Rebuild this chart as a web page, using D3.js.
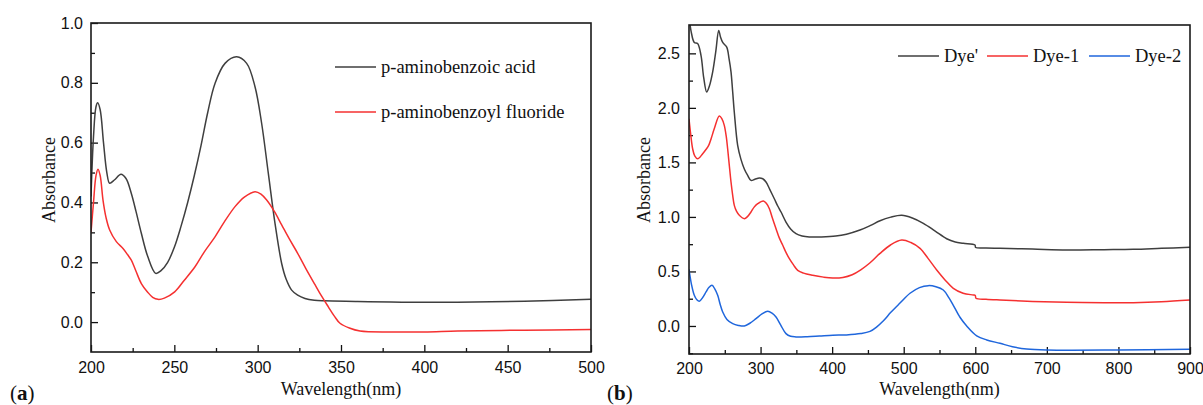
<!DOCTYPE html>
<html>
<head>
<meta charset="utf-8">
<script src="https://cdn.jsdelivr.net/npm/d3@7"></script>
<style>
  body { margin: 0; background: #fff; }
  svg { display: block; font-family: "Liberation Serif", "Times New Roman", serif; }
  .tick text { font-size: 16px; fill: #111; }
  .tick line { stroke: #111; stroke-width: 1.3; }
  .title { font-size: 18px; fill: #111; }
  .legend { font-size: 18.5px; fill: #111; }
</style>
</head>
<body>
<svg width="1203" height="405"></svg>
<script>
// ---- panel (a) : p-aminobenzoic acid vs p-aminobenzoyl fluoride ----
var acidWl = [200, 201.5, 203, 204, 205.5, 207.5, 209.5, 211.2, 214, 218, 221, 224.2, 227, 230.2, 234, 238.8, 242, 246, 250, 254, 258, 262, 266, 270, 274.4, 280.4, 287.4, 293.4, 298.4, 302.4, 306.4, 310.4, 314.4, 317, 320.4, 324, 328.4, 334, 340, 360, 380, 400, 430, 460, 500];
var acidAbs = [0.42, 0.62, 0.72, 0.733, 0.71, 0.60, 0.50, 0.464, 0.475, 0.494, 0.48, 0.43, 0.37, 0.297, 0.22, 0.163, 0.172, 0.20, 0.25, 0.32, 0.40, 0.49, 0.59, 0.70, 0.798, 0.865, 0.887, 0.865, 0.787, 0.664, 0.497, 0.330, 0.196, 0.145, 0.107, 0.09, 0.079, 0.073, 0.071, 0.069, 0.067, 0.066, 0.067, 0.070, 0.076];

var fluorWl = [200, 201.5, 203, 204.2, 205.5, 207.2, 209, 211.2, 215.2, 219.2, 222, 224.2, 227, 230.2, 234, 237, 240.2, 244, 250.2, 256, 262.4, 268, 274.4, 280, 286.4, 292, 298.4, 302, 305.4, 310, 314.4, 319, 324, 329, 334.4, 338, 342.4, 346, 349.4, 355, 361.4, 380, 400, 420, 460, 500];
var fluorAbs = [0.30, 0.40, 0.49, 0.511, 0.49, 0.408, 0.35, 0.308, 0.269, 0.246, 0.225, 0.207, 0.17, 0.129, 0.10, 0.083, 0.076, 0.08, 0.101, 0.14, 0.185, 0.235, 0.285, 0.335, 0.386, 0.418, 0.436, 0.428, 0.408, 0.37, 0.325, 0.278, 0.23, 0.178, 0.125, 0.09, 0.051, 0.02, -0.004, -0.02, -0.030, -0.033, -0.033, -0.030, -0.027, -0.025];

var seriesA = ["p-aminobenzoic acid", "p-aminobenzoyl fluoride"];

// ---- panel (b) : dyes ----
var dyePWl = [200, 203, 207.4, 212, 216.8, 220.5, 224.7, 228.5, 233.1, 237.5, 241.5, 244, 247.1, 252.7, 256, 258.7, 261, 263.3, 268, 272.5, 277.3, 282, 286.6, 292, 298.3, 303, 307.6, 313, 319.2, 324, 328.6, 335.5, 342, 349.5, 358, 368, 385, 405, 420, 438.9, 453, 466.9, 482, 497.2, 512, 527.4, 544, 560, 572, 583.3, 599.6, 600.5, 615, 634.5, 680, 727.7, 780, 820.8, 860, 900];
var dyePAbs = [2.85, 2.70, 2.60, 2.59, 2.48, 2.28, 2.145, 2.2, 2.33, 2.52, 2.71, 2.65, 2.60, 2.557, 2.45, 2.33, 2.15, 1.96, 1.656, 1.53, 1.44, 1.38, 1.335, 1.345, 1.357, 1.35, 1.32, 1.25, 1.167, 1.10, 1.045, 0.953, 0.89, 0.846, 0.825, 0.816, 0.817, 0.825, 0.842, 0.88, 0.92, 0.965, 0.998, 1.015, 0.99, 0.941, 0.87, 0.80, 0.77, 0.758, 0.742, 0.72, 0.715, 0.712, 0.705, 0.697, 0.70, 0.703, 0.712, 0.721];

var dye1Wl = [200, 202.5, 205.1, 208, 212.1, 219.1, 227.5, 231, 235.4, 242.3, 246, 249.3, 252, 254, 256.5, 258.7, 261, 263.3, 266.5, 270.3, 277.3, 282, 286.6, 291, 296, 303.9, 308, 312.3, 316.5, 321.6, 326, 331, 335.5, 340.2, 346, 351.9, 360, 372.8, 388, 400.8, 415, 428, 440, 453, 466.9, 482, 497.2, 510, 522.8, 534, 546.1, 558, 569.3, 583, 597.2, 600, 601, 615, 634.5, 680, 727.7, 780, 820.8, 860, 900];
var dye1Abs = [1.90, 1.75, 1.625, 1.56, 1.533, 1.58, 1.656, 1.72, 1.81, 1.925, 1.90, 1.84, 1.74, 1.625, 1.46, 1.32, 1.20, 1.106, 1.05, 1.015, 0.984, 1.005, 1.045, 1.09, 1.121, 1.146, 1.125, 1.075, 0.99, 0.892, 0.81, 0.74, 0.675, 0.617, 0.56, 0.51, 0.485, 0.465, 0.448, 0.44, 0.445, 0.47, 0.515, 0.58, 0.666, 0.745, 0.788, 0.765, 0.712, 0.62, 0.513, 0.42, 0.345, 0.30, 0.284, 0.28, 0.254, 0.245, 0.238, 0.225, 0.217, 0.213, 0.214, 0.222, 0.238];

var dye2Wl = [200, 203.5, 207.4, 211, 214.4, 219, 223.8, 228, 232.1, 236, 240.1, 243.5, 247.1, 253, 261.1, 269, 277.3, 285, 293.6, 302, 310, 316, 321.6, 328, 335.5, 342, 349.5, 365, 382.1, 400.8, 420, 440, 452.9, 462, 472, 482, 494.8, 508.8, 522, 534.4, 545, 555.3, 563, 569.3, 578.6, 588, 602, 616, 634.5, 652, 671.8, 700, 800, 900];
var dye2Abs = [0.52, 0.38, 0.281, 0.24, 0.226, 0.26, 0.312, 0.355, 0.373, 0.34, 0.281, 0.20, 0.128, 0.06, 0.021, 0.005, 0.0, 0.025, 0.067, 0.11, 0.135, 0.118, 0.082, 0.01, -0.07, -0.095, -0.10, -0.098, -0.092, -0.085, -0.082, -0.07, -0.05, -0.01, 0.05, 0.125, 0.21, 0.30, 0.352, 0.37, 0.36, 0.33, 0.26, 0.19, 0.08, 0.0, -0.09, -0.128, -0.159, -0.19, -0.211, -0.22, -0.22, -0.214];

var seriesB = ["Dye'", "Dye-1", "Dye-2"];

var colors = ["#3f3f3f", "#f53030", "#1f66dc"];

function zip(xs, ys) {
  return xs.map(function(x, i) { return { x: x, y: ys[i] }; });
}

var svg = d3.select("svg");

function drawPanel(p) {
  var g = svg.append("g");

  var x = d3.scaleLinear().domain(p.xDomain).range([p.left, p.right]);
  var y = d3.scaleLinear().domain(p.yDomain).range([p.bottom, p.top]);

  var clipId = "clip-" + p.name;
  svg.append("clipPath").attr("id", clipId)
    .append("rect")
      .attr("x", p.left).attr("y", p.top)
      .attr("width", p.right - p.left).attr("height", p.bottom - p.top);

  // minor ticks
  g.append("g")
      .attr("transform", "translate(0," + p.bottom + ")")
      .call(d3.axisBottom(x).tickValues(p.xMinor).tickSize(-4).tickFormat(""))
      .call(function(s) { s.select(".domain").remove(); });
  g.append("g")
      .attr("transform", "translate(" + p.left + ",0)")
      .call(d3.axisLeft(y).tickValues(p.yMinor).tickSize(-4).tickFormat(""))
      .call(function(s) { s.select(".domain").remove(); });

  // major ticks
  g.append("g")
      .attr("transform", "translate(0," + p.bottom + ")")
      .call(d3.axisBottom(x).tickValues(p.xTicks).tickSize(-7).tickPadding(p.xPad).tickFormat(d3.format("d")))
      .call(function(s) { s.select(".domain").remove(); });
  g.append("g")
      .attr("transform", "translate(" + p.left + ",0)")
      .call(d3.axisLeft(y).tickValues(p.yTicks).tickSize(-7).tickPadding(p.yPad).tickFormat(d3.format(".1f")))
      .call(function(s) { s.select(".domain").remove(); });
  g.selectAll(".tick text").attr("font-family", null).attr("font-size", null);

  var line = d3.line()
      .x(function(d) { return x(d.x); })
      .y(function(d) { return y(d.y); })
      .curve(d3.curveCatmullRom.alpha(0.5));

  g.append("g").attr("clip-path", "url(#" + clipId + ")")
    .selectAll("path")
    .data(p.series)
    .enter().append("path")
      .attr("d", function(d) { return line(d.values); })
      .attr("fill", "none")
      .attr("stroke", function(d) { return d.color; })
      .attr("stroke-width", 1.5)
      .attr("stroke-linejoin", "round");

  // frame
  g.append("rect")
      .attr("x", p.left).attr("y", p.top)
      .attr("width", p.right - p.left).attr("height", p.bottom - p.top)
      .attr("fill", "none").attr("stroke", "#1a1a1a").attr("stroke-width", 1.6);

  // axis titles
  g.append("text").attr("class", "title")
      .attr("x", (p.left + p.right) / 2).attr("y", 395)
      .attr("text-anchor", "middle")
      .text("Wavelength(nm)");
  g.append("text").attr("class", "title")
      .attr("transform", "translate(" + p.yTitleX + ",180) rotate(-90)")
      .attr("text-anchor", "middle")
      .text("Absorbance");

  // legend
  var leg = g.selectAll(".leg")
    .data(p.series)
    .enter().append("g")
      .attr("class", "leg")
      .attr("transform", function(d, i) { return "translate(" + p.legX[i] + "," + p.legY[i] + ")"; });
  leg.append("line")
      .attr("x1", 0).attr("x2", 41).attr("y1", 0).attr("y2", 0)
      .attr("stroke", function(d) { return d.color; })
      .attr("stroke-width", 1.5);
  leg.append("text").attr("class", "legend")
      .attr("x", 46).attr("y", 6)
      .text(function(d) { return d.name; });

  // panel letter
  var lab = g.append("text")
      .attr("x", p.labelX).attr("y", 400)
      .attr("font-size", 21).attr("fill", "#111");
  lab.append("tspan").text("(");
  lab.append("tspan").attr("font-weight", "bold").text(p.name);
  lab.append("tspan").text(")");
}

drawPanel({
  name: "a",
  left: 91, right: 591, top: 23, bottom: 352,
  xDomain: [200, 500], yDomain: [-0.1, 1.0],
  xTicks: d3.range(200, 501, 50), xMinor: d3.range(225, 500, 50),
  yTicks: [0, 0.2, 0.4, 0.6, 0.8, 1.0], yMinor: [0.1, 0.3, 0.5, 0.7, 0.9],
  xPad: 10, yPad: 8, yTitleX: 55,
  series: [
    { name: seriesA[0], color: colors[0], values: zip(acidWl, acidAbs) },
    { name: seriesA[1], color: colors[1], values: zip(fluorWl, fluorAbs) }
  ],
  legX: [335, 335], legY: [67, 112],
  labelX: 10
});

drawPanel({
  name: "b",
  left: 689, right: 1190, top: 25, bottom: 354,
  xDomain: [200, 900], yDomain: [-0.257, 2.76],
  xTicks: d3.range(200, 901, 100), xMinor: d3.range(250, 900, 100),
  yTicks: [0, 0.5, 1.0, 1.5, 2.0, 2.5], yMinor: [-0.25, 0.25, 0.75, 1.25, 1.75, 2.25],
  xPad: 9, yPad: 9, yTitleX: 650,
  series: [
    { name: seriesB[0], color: colors[0], values: zip(dyePWl, dyePAbs) },
    { name: seriesB[1], color: colors[1], values: zip(dye1Wl, dye1Abs) },
    { name: seriesB[2], color: colors[2], values: zip(dye2Wl, dye2Abs) }
  ],
  legX: [898, 987, 1089], legY: [56, 56, 56],
  labelX: 607
});
</script>
</body>
</html>
